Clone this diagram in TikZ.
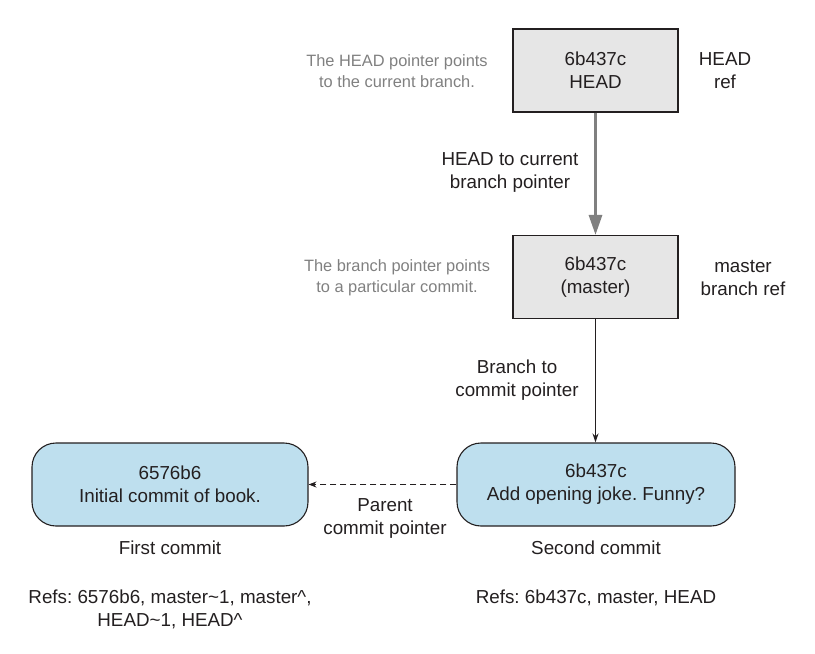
\documentclass[tikz,border=0pt]{standalone}
\usepackage{fontspec}
\setmainfont{Liberation Sans}
\usetikzlibrary{arrows.meta,positioning}

\definecolor{refgray}{HTML}{E6E6E6}
\definecolor{commitblue}{HTML}{BEDFEE}
\definecolor{notegray}{HTML}{808080}
\definecolor{inkgray}{HTML}{231F20}

\newcommand{\mainfs}{\fontsize{18.8}{23}\selectfont}
\newcommand{\notefs}{\fontsize{16.4}{21}\selectfont}

\begin{document}
\frenchspacing
\begin{tikzpicture}[x=1pt,y=-1pt,
    refbox/.style={draw=inkgray, fill=refgray, line width=1.1pt,
        minimum width=165pt, minimum height=83pt, align=center,
        font=\mainfs, text=inkgray},
    commitbox/.style={draw=inkgray, fill=commitblue, line width=1.1pt,
        rounded corners=24pt, minimum height=83pt, align=center,
        font=\mainfs, text=inkgray},
    label/.style={align=center, inner sep=0pt, font=\mainfs, text=inkgray},
    note/.style={align=center, inner sep=0pt, font=\notefs, text=notegray},
    pointer/.style={-{Stealth[length=9pt,width=6pt]}, line width=1pt, draw=inkgray}]
    \useasboundingbox (0,0) rectangle (815,654);

    % Refs
    \node[refbox] (head) at (595.5,70.5) {6b437c\\HEAD};
    \node[refbox] (master) at (595.5,277) {6b437c\\(master)};
    \node[label] (headref) at (725,71) {HEAD\\ref};
    \node[label] (masterref) at (743,278) {master\\branch ref};
    \node[note] (headnote) at (397,71) {The HEAD pointer points\\to the current branch.};
    \node[note] (masternote) at (397,278) {The branch pointer points\\to a particular commit.};

    % Commits
    \node[commitbox, minimum width=276pt] (first) at (170,484.5) {6576b6\\Initial commit of book.};
    \node[commitbox, minimum width=278pt] (second) at (596,484.5) {6b437c\\Add opening joke. Funny?};
    \node[label] (firstlabel) at (170,548) {First commit};
    \node[label] (secondlabel) at (596,548) {Second commit};
    \node[label, anchor=north] (firstrefs) at (170,590) {Refs: 6576b6, master\textasciitilde1, master\textasciicircum,\\HEAD\textasciitilde1, HEAD\textasciicircum};
    \node[label, anchor=north] (secondrefs) at (596,590) {Refs: 6b437c, master, HEAD};

    % Pointers
    \draw[-{Triangle[length=20pt,width=13pt]}, line width=3pt, draw=notegray, fill=notegray] (head) -- (master);
    \node[label] (headptr) at (510,172) {HEAD to current\\branch pointer};
    \draw[pointer] (master.south) -- (master.south |- second.north);
    \node[label] (branchptr) at (517,380) {Branch to\\commit pointer};
    \draw[pointer, dashed, dash pattern=on 6pt off 4pt, -{Stealth[length=8pt,width=6pt]}] (second) -- (first);
    \node[label] (parentptr) at (385,518) {Parent\\commit pointer};
\end{tikzpicture}
\end{document}
